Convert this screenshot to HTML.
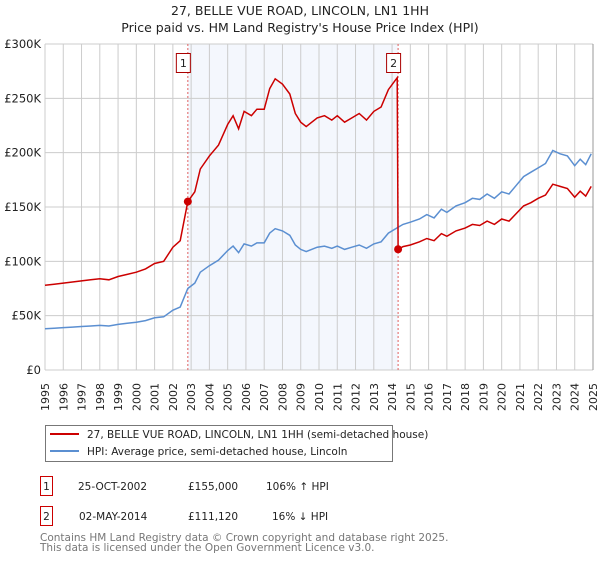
<!DOCTYPE html>
<html><head><meta charset="utf-8">
<style>
body{margin:0;background:#fff;font-family:"DejaVu Sans","Liberation Sans",sans-serif;}
svg text{font-family:"DejaVu Sans","Liberation Sans",sans-serif;}
</style></head>
<body>
<svg id="chart" width="600" height="560" xmlns="http://www.w3.org/2000/svg">
<text x="300" y="15" text-anchor="middle" font-size="12.5" fill="#222">27, BELLE VUE ROAD, LINCOLN, LN1 1HH</text>
<text x="300" y="32" text-anchor="middle" font-size="12.5" fill="#222">Price paid vs. HM Land Registry's House Price Index (HPI)</text>
<g id="grid"></g>
<g id="series"></g>
<g id="axes"></g>
<g>
<rect x="45.5" y="425.5" width="347" height="36" fill="#fff" stroke="#777"/>
<line x1="50" y1="434" x2="79" y2="434" stroke="#cc0000" stroke-width="2"/>
<text x="87" y="438" font-size="10.5" fill="#222">27, BELLE VUE ROAD, LINCOLN, LN1 1HH (semi-detached house)</text>
<line x1="50" y1="451" x2="79" y2="451" stroke="#5b8fd1" stroke-width="2"/>
<text x="87" y="455" font-size="10.5" fill="#222">HPI: Average price, semi-detached house, Lincoln</text>
</g>
<g font-size="10.5" fill="#222">
<rect x="40.5" y="476.5" width="12" height="19" fill="#fff" stroke="#cc0000"/>
<text x="46.5" y="490" text-anchor="middle">1</text>
<text x="78" y="490">25-OCT-2002</text>
<text x="188" y="490">£155,000</text>
<text x="266" y="490">106% ↑ HPI</text>
<rect x="40.5" y="506.5" width="12" height="19" fill="#fff" stroke="#cc0000"/>
<text x="46.5" y="520" text-anchor="middle">2</text>
<text x="79" y="520">02-MAY-2014</text>
<text x="188" y="520">£111,120</text>
<text x="272" y="520">16% ↓ HPI</text>
</g>
<text x="40" y="541" font-size="10.5" fill="#777">Contains HM Land Registry data © Crown copyright and database right 2025.</text>
<text x="40" y="551" font-size="10.5" fill="#777">This data is licensed under the Open Government Licence v3.0.</text>
</svg>
<script>
const yTicks=[0,50,100,150,200,250,300];
const yTickLabels=["£0","£50K","£100K","£150K","£200K","£250K","£300K"];
const xYears=[1995,1996,1997,1998,1999,2000,2001,2002,2003,2004,2005,2006,2007,2008,2009,2010,2011,2012,2013,2014,2015,2016,2017,2018,2019,2020,2021,2022,2023,2024,2025];
const hpiDates=[1995.0,1995.5,1996.0,1996.5,1997.0,1997.5,1998.0,1998.5,1999.0,1999.5,2000.0,2000.5,2001.0,2001.5,2002.0,2002.4,2002.82,2003.2,2003.5,2004.0,2004.5,2005.0,2005.3,2005.6,2005.9,2006.3,2006.6,2007.0,2007.3,2007.6,2008.0,2008.4,2008.7,2009.0,2009.3,2009.9,2010.3,2010.7,2011.0,2011.4,2011.8,2012.2,2012.6,2013.0,2013.4,2013.8,2014.3,2014.6,2015.0,2015.5,2015.9,2016.3,2016.7,2017.0,2017.5,2018.0,2018.4,2018.8,2019.2,2019.6,2020.0,2020.4,2020.8,2021.2,2021.6,2022.0,2022.4,2022.8,2023.2,2023.6,2024.0,2024.3,2024.6,2024.9];
const hpiValues=[38,38.5,39,39.5,40,40.5,41,40.5,42,43,44,45.5,48,49,55,58,75,80,90,96,101,110,114,108,116,114,117,117,126,130,128,124,115,111,109,113,114,112,114,111,113,115,112,116,118,126,131,134,136,139,143,140,148,145,151,154,158,157,162,158,164,162,170,178,182,186,190,202,199,197,188,194,189,199];
const priceDates=[1995.0,1995.5,1996.0,1996.5,1997.0,1997.5,1998.0,1998.5,1999.0,1999.5,2000.0,2000.5,2001.0,2001.5,2002.0,2002.4,2002.82,2003.2,2003.5,2004.0,2004.5,2005.0,2005.3,2005.6,2005.9,2006.3,2006.6,2007.0,2007.3,2007.6,2008.0,2008.4,2008.7,2009.0,2009.3,2009.9,2010.3,2010.7,2011.0,2011.4,2011.8,2012.2,2012.6,2013.0,2013.4,2013.8,2014.28,2014.33,2014.6,2015.0,2015.5,2015.9,2016.3,2016.7,2017.0,2017.5,2018.0,2018.4,2018.8,2019.2,2019.6,2020.0,2020.4,2020.8,2021.2,2021.6,2022.0,2022.4,2022.8,2023.2,2023.6,2024.0,2024.3,2024.6,2024.9];
const priceValues=[78,79,80,81,82,83,84,83,86,88,90,93,98,100,113,119,155,164,185,197,207,226,234,222,238,234,240,240,259,268,263,254,236,228,224,232,234,230,234,228,232,236,230,238,242,258,269,111,113.6,115,118,121,119,125.5,123,128,130.6,134,133,137,134,139,137,144,151,154,158,161,171,169,167,159,164.5,160,169];
const saleDates=[2002.82,2014.33];
const saleValues=[155,111.12];
const saleLabels=["1","2"];

const NS="http://www.w3.org/2000/svg";
const X0=45,X1=593,Y0=370,Y1=44;
function xs(t){return X0+(t-1995)/(2025-1995)*(X1-X0);}
function ys(v){return Y0-v/300*(Y0-Y1);}
function mk(tag,attrs,parent){const e=document.createElementNS(NS,tag);for(const k in attrs)e.setAttribute(k,attrs[k]);parent.appendChild(e);return e;}
const grid=document.getElementById('grid'),series=document.getElementById('series'),axes=document.getElementById('axes');

let shade=mk('rect',{x:xs(saleDates[0]),y:Y1,width:xs(saleDates[1])-xs(saleDates[0]),height:Y0-Y1,fill:'#f4f7fd'},grid);


xYears.forEach(yr=>{
  const l=mk('line',{x1:xs(yr),x2:xs(yr),y1:Y1,y2:Y0,stroke:'#cccccc','stroke-width':1},grid);
  
  
  const t=mk('text',{x:0,y:0,'font-size':11,fill:'#222','text-anchor':'end',transform:`translate(${xs(yr)+4},383) rotate(-90)`},axes);
  t.textContent=yr;
  
  
});
yTicks.forEach((v,i)=>{
  const l=mk('line',{x1:X0,x2:X1,y1:ys(v),y2:ys(v),stroke:'#cccccc','stroke-width':1},grid);
  
  
  const t=mk('text',{x:41,y:ys(v)+4,'font-size':11.5,fill:'#222','text-anchor':'end'},axes);
  t.textContent=yTickLabels[i];
  
  
});
let rb=mk('line',{x1:X1,x2:X1,y1:Y1,y2:Y0,stroke:'#999','stroke-width':1},grid);


saleDates.forEach((d,i)=>{
  const l=mk('line',{x1:xs(d),x2:xs(d),y1:Y1,y2:Y0,stroke:'#e06060','stroke-width':1,'stroke-dasharray':'2,2'},grid);
  
  
});
function path(ds,vs){return ds.map((d,i)=>(i?'L':'M')+xs(d).toFixed(1)+','+ys(vs[i]).toFixed(1)).join('');}
let hp=mk('path',{d:path(hpiDates,hpiValues),fill:'none',stroke:'#5b8fd1','stroke-width':1.5},series);


let pp=mk('path',{d:path(priceDates,priceValues),fill:'none',stroke:'#cc0000','stroke-width':1.5},series);


saleDates.forEach((d,i)=>{
  const c=mk('circle',{cx:xs(d),cy:ys(saleValues[i]),r:4,fill:'#cc0000'},series);
  
  
  const r=mk('rect',{x:xs(d)-11.5,y:53.5,width:14,height:19,fill:'#fff',stroke:'#aa0000'},series);
  
  
  const t=mk('text',{x:xs(d)-4.5,y:67,'font-size':11,fill:'#222','text-anchor':'middle'},series);
  t.textContent=saleLabels[i];
  
  
});
</script>
</body></html>
